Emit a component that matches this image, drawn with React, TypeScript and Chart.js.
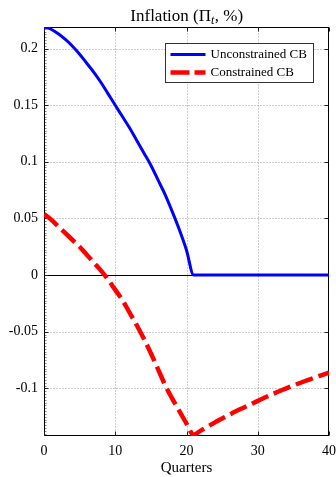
import React, { useEffect, useRef } from 'react';
import { Chart, registerables } from 'chart.js';

Chart.register(...registerables);

const quarters = [0,1,2,3,4,5,6,7,8,9,10,11,12,13,14,15,16,17,18,19,20,21,22,23,24,25,26,27,28,29,30,31,32,33,34,35,36,37,38,39,40];
const unconstrained = [0.219,0.217,0.213,0.208,0.202,0.195,0.187,0.179,0.170,0.160,0.150,0.140,0.130,0.119,0.108,0.097,0.084,0.071,0.056,0.040,0.022,0.000,0,0,0,0,0,0,0,0,0,0,0,0,0,0,0,0,0,0,0];
const constrained = [0.054,0.049,0.043,0.037,0.031,0.025,0.018,0.011,0.004,-0.004,-0.013,-0.022,-0.033,-0.044,-0.056,-0.069,-0.083,-0.097,-0.109,-0.120,-0.131,-0.141,-0.1372,-0.1335,-0.130,-0.1265,-0.1232,-0.120,-0.117,-0.114,-0.111,-0.108,-0.1052,-0.1025,-0.0999,-0.0974,-0.095,-0.0927,-0.0904,-0.0882,-0.086];
const seriesLabels = ['Unconstrained CB', 'Constrained CB'];
const seriesColors = ['#0000ff', '#ff0000'];
const xTicks = [0, 10, 20, 30, 40];
const yTicks = [-0.1, -0.05, 0, 0.05, 0.1, 0.15, 0.2];
const yTickLabels = ['-0.1', '-0.05', '0', '0.05', '0.1', '0.15', '0.2'];
const xRange = [0, 40];
const yRange = [-0.142, 0.219];
const titleMain = 'Inflation (Π';
const titleSub = 't';
const titleEnd = ', %)';
const xTitle = 'Quarters';

const SERIF = "'Liberation Serif', 'Times New Roman', serif";
const RED_DASH = [18, 6];

export default function App() {
  const ref = useRef<HTMLCanvasElement>(null);

  useEffect(() => {
    const canvas = ref.current;
    if (!canvas) return;

    const framePlugin = {
      id: 'frame',
      beforeDatasetsDraw(chart: any) {
        const { ctx, chartArea: a, scales } = chart;
        const xs = scales.x, ys = scales.y;
        const L = Math.round(a.left) + 0.5, R = Math.round(a.right) - 0.5;
        const T = Math.round(a.top) + 0.5, B = Math.round(a.bottom) - 0.5;
        ctx.save();
        ctx.strokeStyle = '#9a9a9a';
        ctx.lineWidth = 1;
        ctx.setLineDash([1, 2]);
        for (const v of xTicks) {
          if (v === xRange[0] || v === xRange[1]) continue;
          const px = Math.round(xs.getPixelForValue(v)) + 0.5;
          ctx.beginPath(); ctx.moveTo(px, T); ctx.lineTo(px, B); ctx.stroke();
        }
        for (const v of yTicks) {
          if (v === 0) continue;
          const py = Math.round(ys.getPixelForValue(v)) + 0.5;
          ctx.beginPath(); ctx.moveTo(L, py); ctx.lineTo(R, py); ctx.stroke();
        }
        ctx.setLineDash([]);
        const pz = Math.round(ys.getPixelForValue(0)) + 0.5;
        ctx.strokeStyle = '#000';
        ctx.beginPath(); ctx.moveTo(L, pz); ctx.lineTo(R, pz); ctx.stroke();
        ctx.strokeStyle = '#8a8a8a';
        for (let v = Math.ceil(yRange[0] / 0.0025) * 0.0025; v <= yRange[1]; v += 0.0025) {
          const py = Math.round(ys.getPixelForValue(v)) + 0.5;
          ctx.beginPath(); ctx.moveTo(L, py); ctx.lineTo(L + 2, py); ctx.stroke();
        }
        ctx.strokeStyle = '#000';
        ctx.strokeRect(L, T, R - L, B - T);
        ctx.strokeStyle = '#222';
        for (const v of xTicks) {
          const px = Math.round(xs.getPixelForValue(v)) + 0.5;
          ctx.beginPath(); ctx.moveTo(px, B); ctx.lineTo(px, B - 4); ctx.stroke();
          ctx.beginPath(); ctx.moveTo(px, T); ctx.lineTo(px, T + 4); ctx.stroke();
        }
        for (const v of yTicks) {
          const py = Math.round(ys.getPixelForValue(v)) + 0.5;
          ctx.beginPath(); ctx.moveTo(L, py); ctx.lineTo(L + 4, py); ctx.stroke();
          ctx.beginPath(); ctx.moveTo(R, py); ctx.lineTo(R - 4, py); ctx.stroke();
        }
        ctx.restore();
      },
      afterDatasetsDraw(chart: any) {
        const { ctx, chartArea: a } = chart;
        ctx.save();
        const bw = 148, bh = 39;
        const bx = Math.round(a.right - 16 - bw) + 0.5;
        const by = Math.round(a.top + 16) + 0.5;
        ctx.fillStyle = '#fff';
        ctx.fillRect(bx, by, bw, bh);
        ctx.strokeStyle = '#333';
        ctx.lineWidth = 1;
        ctx.strokeRect(bx, by, bw, bh);
        ctx.font = `13px ${SERIF}`;
        ctx.textBaseline = 'middle';
        ctx.fillStyle = '#000';
        seriesLabels.forEach((lab, i) => {
          const cy = by + 11 + i * 18;
          ctx.strokeStyle = seriesColors[i];
          ctx.lineWidth = i === 0 ? 3 : 4.5;
          ctx.setLineDash(i === 0 ? [] : [19, 5]);
          ctx.beginPath(); ctx.moveTo(bx + 5, cy); ctx.lineTo(bx + 40, cy); ctx.stroke();
          ctx.setLineDash([]);
          ctx.fillText(lab, bx + 45, cy + 0.5);
        });
        const cx = (a.left + a.right) / 2;
        const base = 20.5;
        ctx.textBaseline = 'alphabetic';
        ctx.font = `17px ${SERIF}`;
        const w1 = ctx.measureText(titleMain).width;
        const w3 = ctx.measureText(titleEnd).width;
        ctx.font = `italic 12px ${SERIF}`;
        const w2 = ctx.measureText(titleSub).width;
        const x0 = cx - (w1 + w2 + w3) / 2;
        ctx.font = `17px ${SERIF}`;
        ctx.fillText(titleMain, x0, base);
        ctx.font = `italic 12px ${SERIF}`;
        ctx.fillText(titleSub, x0 + w1, base + 3);
        ctx.font = `17px ${SERIF}`;
        ctx.fillText(titleEnd, x0 + w1 + w2 + 0.5, base);
        ctx.restore();
      },
    };

    const chart = new Chart(canvas, {
      type: 'line',
      data: {
        datasets: [
          {
            label: seriesLabels[0],
            data: quarters.map((q, i) => ({ x: q, y: unconstrained[i] })),
            borderColor: seriesColors[0],
            borderWidth: 3,
            pointRadius: 0,
            cubicInterpolationMode: 'monotone',
            fill: false,
          },
          {
            label: seriesLabels[1],
            data: quarters.map((q, i) => ({ x: q, y: constrained[i] })),
            borderColor: seriesColors[1],
            borderWidth: 4.5,
            borderDash: RED_DASH,
            borderCapStyle: 'butt',
            pointRadius: 0,
            cubicInterpolationMode: 'monotone',
            fill: false,
          },
        ],
      },
      options: {
        responsive: false,
        animation: false,
        events: [],
        layout: { padding: { top: 27, right: 0, left: 0, bottom: 0 } },
        plugins: { legend: { display: false }, title: { display: false }, tooltip: { enabled: false } },
        scales: {
          x: {
            type: 'linear',
            min: xRange[0],
            max: xRange[1],
            afterBuildTicks: (s: any) => { s.ticks = xTicks.map((v) => ({ value: v })); },
            afterFit: (s: any) => { s.height = 41; s.paddingRight = 7; s.paddingLeft = 0; },
            grid: { display: false, drawTicks: false },
            border: { display: false },
            ticks: { padding: 7, color: '#000', font: { family: SERIF, size: 14 }, maxRotation: 0 },
            title: { display: true, text: xTitle, color: '#000', font: { family: SERIF, size: 15 }, padding: { top: 0, bottom: 0 } },
          },
          y: {
            type: 'linear',
            min: yRange[0],
            max: yRange[1],
            afterBuildTicks: (s: any) => { s.ticks = yTicks.map((v) => ({ value: v })); },
            afterFit: (s: any) => { s.width = 44; s.paddingTop = 0; s.paddingBottom = 0; },
            grid: { display: false, drawTicks: false },
            border: { display: false },
            ticks: {
              padding: 6,
              color: '#000',
              font: { family: SERIF, size: 14 },
              callback: (v: any) => {
                const i = yTicks.findIndex((t) => Math.abs(t - Number(v)) < 1e-9);
                return i >= 0 ? yTickLabels[i] : '';
              },
            },
          },
        },
      },
      plugins: [framePlugin],
    } as any);

    return () => chart.destroy();
  }, []);

  return (
    <div style={{ position: 'fixed', left: 0, top: 0, width: 336, height: 477, background: '#fff' }}>
      <canvas ref={ref} width={336} height={477} style={{ display: 'block', width: 336, height: 477 }} />
    </div>
  );
}
